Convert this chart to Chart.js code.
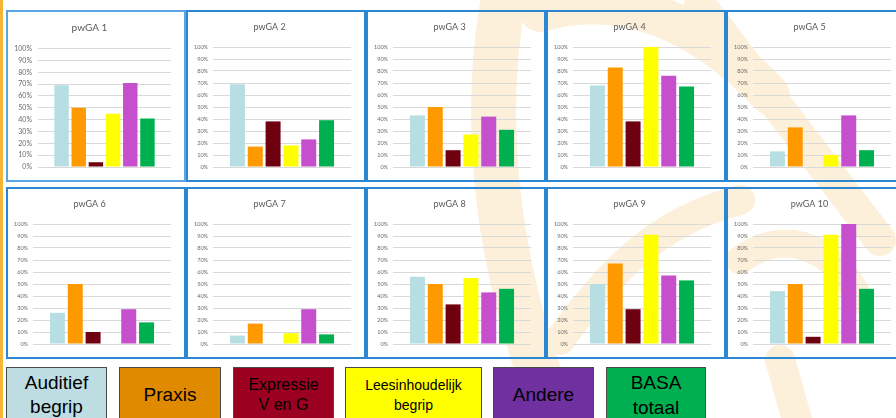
<!DOCTYPE html>
<html>
<head>
<meta charset="utf-8">
<script src="https://cdn.jsdelivr.net/npm/chart.js@4.4.1/dist/chart.umd.min.js"></script>
<style>
    html, body { margin: 0; padding: 0; }
    body { width: 896px; height: 418px; position: relative; overflow: hidden; background: #fff; font-family: 'Liberation Sans', Arial, sans-serif; }
    #watermark { position: absolute; left: 0; top: 0; }
    .stripe { position: absolute; left: 0; top: 0; width: 3px; height: 418px; background: #f6b536; }
    .panel { position: absolute; width: 180px; height: 172px; box-sizing: border-box; border: 2px solid #2c86d2; }
    .panel canvas { position: absolute; left: 0; top: 0; }
    .key { position: absolute; top: 367px; height: 56px; box-sizing: border-box; border: 1px solid #4a4a4a;
           display: flex; align-items: center; justify-content: center; text-align: center; color: #000; }
</style>
</head>
<body>
<svg id="watermark" width="896" height="418">
    <g fill="none" stroke="#fcf0da" stroke-linecap="round">
        <path d="M 505 -10 C 480 120, 495 270, 560 430" stroke-width="45"/>
        <path d="M 540 12 C 620 -12, 700 20, 770 95" stroke-width="40"/>
        <path d="M 700 5 L 880 240" stroke-width="32"/>
        <path d="M 560 340 C 610 270, 660 220, 740 200" stroke-width="30"/>
        <path d="M 740 260 C 780 230, 830 240, 860 300" stroke-width="28"/>
        <path d="M 780 360 L 800 430" stroke-width="30"/>
    </g>
</svg>
<div class="stripe"></div>
<div id="grid"></div>
<div id="keys"></div>

<script>
// panel titles
const panelTitles = ['pwGA 1', 'pwGA 2', 'pwGA 3', 'pwGA 4', 'pwGA 5',
                     'pwGA 6', 'pwGA 7', 'pwGA 8', 'pwGA 9', 'pwGA 10'];

// series (one bar per series in every panel)
const seriesNames = ['Auditief begrip', 'Praxis', 'Expressie V en G',
                     'Leesinhoudelijk begrip', 'Andere', 'BASA totaal'];

// percentages per panel, pwGA 1..10
const auditief        = [69, 69, 43, 68, 13, 26, 7, 56, 50, 44];
const praxis          = [50, 17, 50, 83, 33, 50, 17, 50, 67, 50];
const expressie       = [4, 38, 14, 38, 0, 10, 0, 33, 29, 6];
const leesinhoudelijk = [45, 18, 27, 100, 10, 0, 9, 55, 91, 91];
const andere          = [71, 23, 42, 76, 43, 29, 29, 43, 57, 100];
const basaTotaal      = [41, 39, 31, 67, 14, 18, 8, 46, 53, 46];

// y axis ticks
const yTickValues = [0, 10, 20, 30, 40, 50, 60, 70, 80, 90, 100];

const seriesValues = [auditief, praxis, expressie, leesinhoudelijk, andere, basaTotaal];
const barColors = ['#b7dee2', '#ff9900', '#6f0010', '#ffff00', '#c54fcc', '#00b050'];
const keyColors = ['#bddde2', '#e08a00', '#9b0020', '#ffff00', '#7030a0', '#00b050'];

const colLeft = [6, 186, 366, 546, 726];
const rowTop = [10, 187];

const grid = document.getElementById('grid');

panelTitles.forEach(function(title, p) {
    const panel = document.createElement('div');
    panel.className = 'panel';
    panel.style.left = colLeft[p % 5] + 'px';
    panel.style.top = rowTop[Math.floor(p / 5)] + 'px';
    if (p === 0) panel.style.borderColor = '#5aa5e2';
    const canvas = document.createElement('canvas');
    canvas.width = 176;
    canvas.height = 168;
    panel.appendChild(canvas);
    grid.appendChild(panel);

    // first panel has slightly larger text, like the original
    const big = p === 0;
    const axisWidth = big ? 30 : 25;
    const titleSize = big ? 10 : 9;

    new Chart(canvas.getContext('2d'), {
        type: 'bar',
        data: {
            labels: [title],
            datasets: seriesNames.map(function(name, s) {
                return {
                    label: name,
                    data: [seriesValues[s][p]],
                    backgroundColor: barColors[s],
                    borderWidth: 0,
                    categoryPercentage: 0.775,
                    barPercentage: 0.84
                };
            })
        },
        options: {
            responsive: false,
            animation: false,
            devicePixelRatio: 1,
            layout: { padding: { left: 0, right: 13, top: 0, bottom: 13 } },
            scales: {
                x: { display: false },
                y: {
                    min: 0,
                    max: 100,
                    afterFit: function(scale) { scale.width = axisWidth; },
                    afterBuildTicks: function(scale) {
                        scale.ticks = yTickValues.map(v => ({ value: v }));
                    },
                    ticks: {
                        padding: big ? 6 : 5,
                        color: '#6b6b6b',
                        font: { family: 'Lato', size: big ? 7 : 5.5 },
                        callback: function(value) { return value + '%'; }
                    },
                    grid: { color: '#d9d9d9', lineWidth: 1, drawTicks: false },
                    border: { display: false }
                }
            },
            plugins: {
                legend: { display: false },
                tooltip: { enabled: false },
                title: {
                    display: true,
                    text: title,
                    color: '#595959',
                    font: { family: 'Lato', size: titleSize, weight: 'normal' },
                    padding: { top: big ? 10 : 9.6, bottom: big ? 14.6 : 14.6 }
                }
            }
        }
    });
});

// coloured legend boxes under the panels
const keyBoxes = [
    { left: 6,   width: 101, size: 19, lh: 24, html: 'Auditief<br>begrip' },
    { left: 119, width: 102, size: 19, lh: 24, html: 'Praxis' },
    { left: 233, width: 101, size: 16, lh: 20, html: 'Expressie<br>V en G' },
    { left: 345, width: 137, size: 14, lh: 20, html: 'Leesinhoudelijk<br>begrip' },
    { left: 493, width: 101, size: 19, lh: 24, html: 'Andere' },
    { left: 606, width: 100, size: 19, lh: 25, html: 'BASA<br>totaal' }
];
const keys = document.getElementById('keys');
keyBoxes.forEach(function(k, i) {
    const box = document.createElement('div');
    box.className = 'key';
    box.style.left = k.left + 'px';
    box.style.width = k.width + 'px';
    box.style.background = keyColors[i];
    box.style.fontSize = k.size + 'px';
    box.style.lineHeight = k.lh + 'px';
    box.title = seriesNames[i];
    box.innerHTML = k.html;
    keys.appendChild(box);
});
</script>
</body>
</html>
